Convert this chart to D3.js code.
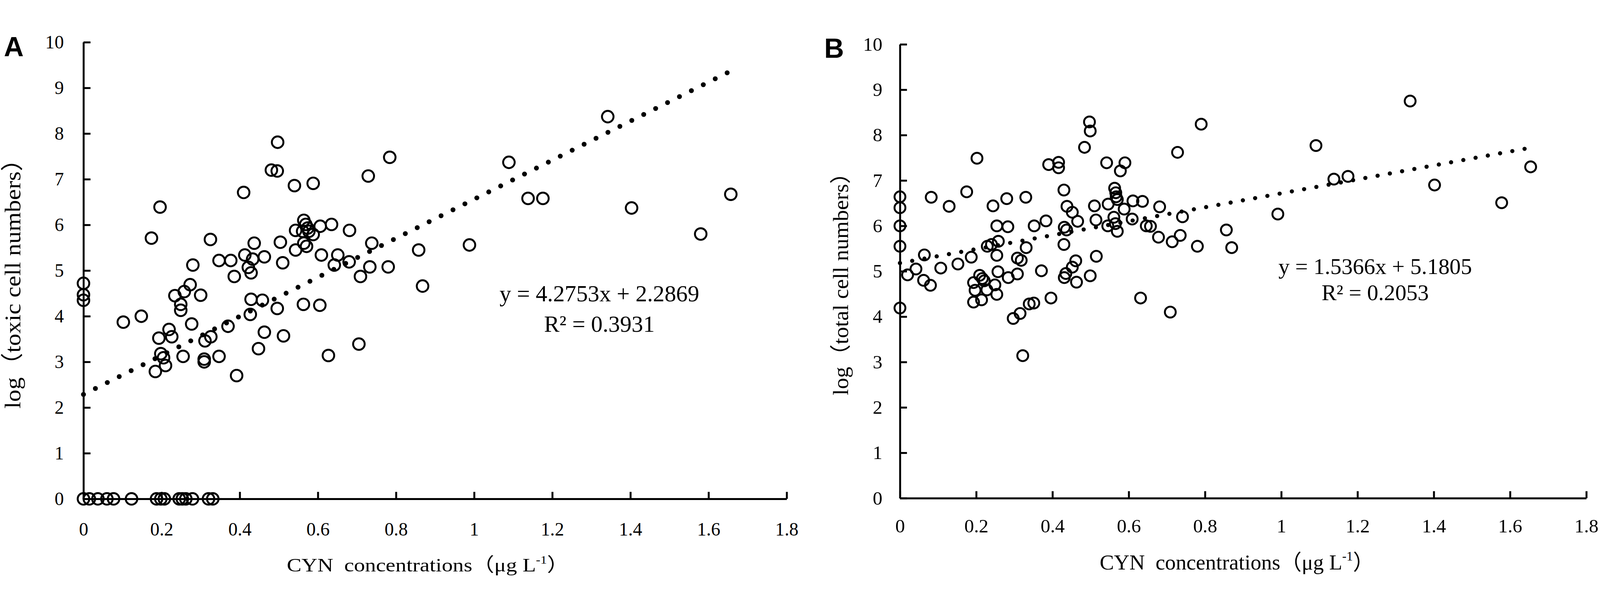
<!DOCTYPE html>
<html>
<head>
<meta charset="utf-8">
<script src="https://cdn.jsdelivr.net/npm/d3@7"></script>
<style>
  html, body { margin: 0; padding: 0; background: #fff; overflow: hidden; }
  svg { display: block; width: 100vw; height: 100vh; }
  .serif { font-family: "Liberation Serif", "Times New Roman", "Noto Sans CJK SC", serif; fill: #000; }
  .letter { font-family: "Liberation Sans", Arial, sans-serif; font-weight: bold; fill: #000; }
</style>
</head>
<body>
<div id="chart"></div>
<script>
const width = 4562, height = 1573;

// axis ticks shared by both panels
const xTicks = [0, 0.2, 0.4, 0.6, 0.8, 1, 1.2, 1.4, 1.6, 1.8];
const yTicks = [0, 1, 2, 3, 4, 5, 6, 7, 8, 9, 10];

// panel A - log(toxic cell numbers) vs CYN
const toxicX = [
    0, 0.015, 0.037, 0.06, 0.077, 0.123, 0.187, 0.198, 0.207, 0.245, 0.253, 0.262, 0.279, 0.32, 0.331,
    0, 0, 0, 0.102, 0.148, 0.174, 0.196, 0.184, 0.193, 0.198, 0.205, 0.21, 0.219, 0.226,
    0.234, 0.249, 0.249, 0.258, 0.273, 0.255, 0.277, 0.28, 0.3, 0.309, 0.309, 0.311, 0.326, 0.325,
    0.347, 0.347, 0.377, 0.386, 0.37, 0.392, 0.41, 0.413, 0.433, 0.422, 0.429, 0.437, 0.463, 0.429,
    0.458, 0.427, 0.463, 0.448, 0.497, 0.481, 0.496, 0.54, 0.588, 0.496, 0.512, 0.504, 0.51, 0.543,
    0.543, 0.561, 0.564, 0.569, 0.574, 0.577, 0.588, 0.564, 0.571, 0.563, 0.605, 0.606, 0.635, 0.609,
    0.627, 0.642, 0.651, 0.681, 0.68, 0.705, 0.709, 0.729, 0.733, 0.738, 0.78, 0.784, 0.858, 0.868,
    0.988, 1.089, 1.138, 1.176, 1.342, 1.403, 1.58, 1.657
];
const toxicY = [
    0, 0, 0, 0, 0, 0, 0, 0, 0, 0, 0, 0, 0, 0, 0,
    4.72, 4.47, 4.35, 3.87, 4.0, 5.71, 6.39, 2.79, 3.52, 3.18, 3.09, 2.92, 3.71, 3.55,
    4.45, 4.26, 4.13, 4.54, 4.69, 3.12, 3.83, 5.12, 4.46, 3.0, 3.06, 3.46, 3.55, 5.68,
    3.12, 5.22, 5.22, 4.87, 3.78, 2.7, 6.71, 5.34, 5.25, 5.07, 4.95, 5.6, 5.3, 4.37,
    4.35, 4.04, 3.65, 3.29, 7.81, 7.2, 7.18, 6.86, 6.91, 4.17, 3.57, 5.62, 5.17, 5.45,
    5.88, 5.86, 6.1, 6.01, 5.93, 5.86, 5.79, 5.6, 5.53, 4.26, 4.24, 5.97, 6.01, 5.34,
    3.14, 5.12, 5.34, 5.88, 5.19, 3.39, 4.87, 7.07, 5.08, 5.6, 5.08, 7.48, 5.45, 4.66,
    5.56, 7.37, 6.58, 6.58, 8.37, 6.37, 5.8, 6.67
];

// panel B - log(total cell numbers) vs CYN
const totalX = [
    0, 0, 0, 0, 0, 0.02, 0.042, 0.064, 0.062, 0.08, 0.082, 0.107, 0.129, 0.152, 0.175, 0.187, 0.202,
    0.229, 0.24, 0.258, 0.254, 0.244, 0.254, 0.28, 0.283, 0.193, 0.209, 0.216, 0.221, 0.197, 0.193,
    0.214, 0.228, 0.249, 0.254, 0.257, 0.284, 0.308, 0.308, 0.318, 0.331, 0.33, 0.352, 0.383, 0.39,
    0.371, 0.297, 0.315, 0.339, 0.351, 0.322, 0.396, 0.416, 0.416, 0.43, 0.438, 0.452, 0.466, 0.431,
    0.437, 0.43, 0.461, 0.452, 0.435, 0.431, 0.463, 0.499, 0.484, 0.497, 0.499, 0.51, 0.514, 0.515,
    0.542, 0.59, 0.578, 0.546, 0.545, 0.563, 0.566, 0.567, 0.57, 0.561, 0.565, 0.57, 0.588, 0.611,
    0.636, 0.609, 0.646, 0.657, 0.631, 0.681, 0.678, 0.714, 0.735, 0.741, 0.728, 0.709, 0.78, 0.79,
    0.856, 0.87, 0.991, 1.091, 1.138, 1.175, 1.338, 1.402, 1.578, 1.654
];
const totalY = [
    6.64, 6.4, 6.0, 5.55, 4.19, 4.92, 5.05, 5.36, 4.8, 4.69, 6.63, 5.07, 6.43, 5.16, 6.75, 5.31, 7.49,
    5.55, 5.59, 5.66, 5.35, 6.44, 6.0, 6.6, 5.98, 4.75, 4.91, 4.84, 4.79, 4.58, 4.32,
    4.37, 4.59, 4.7, 4.49, 4.99, 4.86, 4.94, 5.29, 5.24, 5.52, 6.63, 6.0, 6.11, 7.35,
    5.01, 3.96, 4.07, 4.28, 4.3, 3.14, 4.41, 7.4, 7.28, 6.79, 6.43, 6.3, 6.1, 5.97,
    5.91, 5.59, 5.23, 5.09, 4.95, 4.86, 4.76, 4.9, 7.73, 8.29, 8.09, 6.44, 6.13, 5.33,
    7.39, 7.39, 7.21, 6.48, 6.0, 6.83, 6.73, 6.64, 6.58, 6.19, 6.05, 5.88, 6.37, 6.55,
    6.54, 6.15, 6.0, 5.99, 4.41, 6.42, 5.75, 5.65, 5.79, 6.2, 7.62, 4.1, 5.55, 8.24,
    5.91, 5.52, 6.26, 7.77, 7.03, 7.09, 8.75, 6.9, 6.51, 7.3
];

// trend lines as printed on the chart
const fitSlope = [4.2753, 1.5366];
const fitIntercept = [2.2869, 5.1805];
const fitText = ["y = 4.2753x + 2.2869", "y = 1.5366x + 5.1805"];
const r2Text = ["R\u00b2 = 0.3931", "R\u00b2 = 0.2053"];
const yTitles = ["log\uff08toxic cell numbers\uff09", "log\uff08total cell numbers\uff09"];
const panelLetters = ["A", "B"];

// fixed drawing size, scaled to whatever the window is
const svg = d3.select("#chart")
    .append("svg")
    .attr("viewBox", `0 0 ${width} ${height}`)
    .attr("preserveAspectRatio", "xMidYMid meet");

svg.append("rect").attr("width", width).attr("height", height).attr("fill", "#fff");

const panels = [
    { left: 238, right: 2243, top: 31, bottom: 1334, tickFont: 53, xPad: 67, yPad: 56, r: 16.5,
      dot: 14, gap: 38, letterX: 11, letterY: 71,
      eqX: 1709, eqY: 770, r2Y: 857, eqFont: 66,
      xtX: 1220, xtY: 1541, xtFont: 54, xtScale: 1.16,
      ytX: 58, ytY: 703, ytFont: 64, ytLen: 747 },
    { left: 2566, right: 4523, top: 37, bottom: 1332, tickFont: 55, xPad: 59, yPad: 50, r: 15.5,
      dot: 12, gap: 35.5, letterX: 2350, letterY: 75,
      eqX: 3921, eqY: 692, r2Y: 767, eqFont: 64,
      xtX: 3527, xtY: 1536, xtFont: 61, xtScale: 1.0,
      ytX: 2418, ytY: 705, ytFont: 60, ytLen: 667 }
];

function drawPanel(p, i, xs, ys) {
    const g = svg.append("g");

    const x = d3.scaleLinear().domain([0, 1.8]).range([p.left, p.right]);
    const y = d3.scaleLinear().domain([0, 10]).range([p.bottom, p.top]);

    // X axis, ticks point inwards
    g.append("g")
        .attr("class", "axis")
        .attr("transform", `translate(0, ${p.bottom})`)
        .call(d3.axisBottom(x).tickValues(xTicks).tickFormat(d3.format("~g"))
            .tickSize(-20).tickSizeOuter(0).tickPadding(p.xPad));

    // Y axis
    g.append("g")
        .attr("class", "axis")
        .attr("transform", `translate(${p.left}, 0)`)
        .call(d3.axisLeft(y).tickValues(yTicks).tickFormat(d3.format("d"))
            .tickSize(-20).tickSizeOuter(0).tickPadding(p.yPad));

    g.selectAll(".axis")
        .attr("font-size", p.tickFont)
        .attr("font-family", null);
    g.selectAll(".axis text").attr("class", "serif");
    g.selectAll(".axis path, .axis line")
        .attr("stroke", "#000")
        .attr("stroke-width", 5.5);

    // dotted trend line
    const xMax = d3.max(xs);
    g.append("path")
        .datum([0, xMax])
        .attr("fill", "none")
        .attr("stroke", "#000")
        .attr("stroke-width", p.dot)
        .attr("stroke-linecap", "round")
        .attr("stroke-dasharray", `0 ${p.gap}`)
        .attr("d", d3.line()
            .x(d => x(d))
            .y(d => y(fitSlope[i] * d + fitIntercept[i])));

    // open circle markers
    g.append("g")
        .selectAll("circle")
        .data(d3.range(xs.length))
        .join("circle")
        .attr("cx", k => x(xs[k]))
        .attr("cy", k => y(ys[k]))
        .attr("r", p.r)
        .attr("fill", "none")
        .attr("stroke", "#000")
        .attr("stroke-width", 5.5);

    // equation
    g.append("text")
        .attr("class", "serif")
        .attr("x", p.eqX).attr("y", p.eqY)
        .attr("text-anchor", "middle")
        .attr("font-size", p.eqFont)
        .text(fitText[i]);
    g.append("text")
        .attr("class", "serif")
        .attr("x", p.eqX).attr("y", p.r2Y)
        .attr("text-anchor", "middle")
        .attr("font-size", p.eqFont)
        .text(r2Text[i]);

    // X axis label
    const xt = g.append("text")
        .attr("class", "serif")
        .attr("text-anchor", "middle")
        .attr("font-size", p.xtFont)
        .attr("transform", `translate(${p.xtX}, ${p.xtY}) scale(${p.xtScale}, 1)`);
    xt.append("tspan").text("CYN\u2002concentrations\uff08\u03bcg L");
    xt.append("tspan").attr("font-size", p.xtFont * 0.6).attr("dy", -p.xtFont * 0.42).text("-1");
    xt.append("tspan").attr("font-size", p.xtFont).attr("dy", p.xtFont * 0.42).text("\uff09");

    // Y axis label
    g.append("text")
        .attr("class", "serif")
        .attr("text-anchor", "middle")
        .attr("font-size", p.ytFont)
        .attr("textLength", p.ytLen)
        .attr("lengthAdjust", "spacingAndGlyphs")
        .attr("transform", `translate(${p.ytX}, ${p.ytY}) rotate(-90)`)
        .text(yTitles[i]);

    // panel letter
    g.append("text")
        .attr("class", "letter")
        .attr("x", p.letterX).attr("y", p.letterY)
        .attr("font-size", 78)
        .text(panelLetters[i]);
}

drawPanel(panels[0], 0, toxicX, toxicY);
drawPanel(panels[1], 1, totalX, totalY);
</script>
</body>
</html>
